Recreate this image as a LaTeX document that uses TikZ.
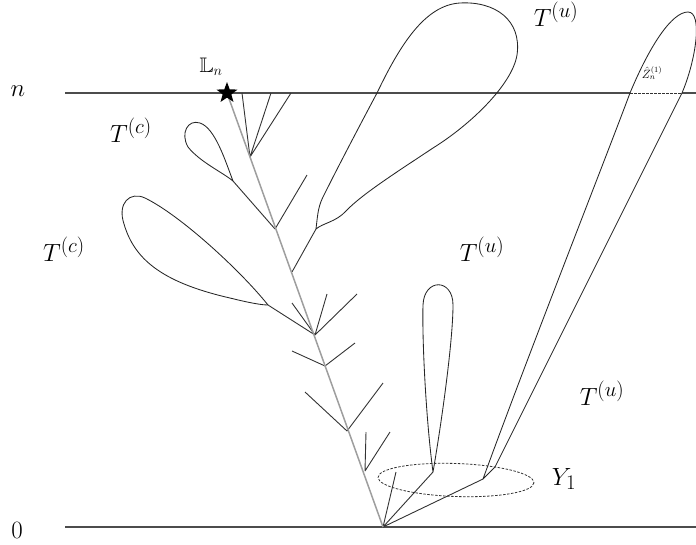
\documentclass[tikz,border=0pt]{standalone}
\usepackage{amssymb}
\usetikzlibrary{shapes.geometric}
\begin{document}
\begin{tikzpicture}[x=1pt,y=-1pt,
  edge/.style={black!80,line width=0.9pt},
  spine/.style={black!38,line width=1.5pt},
  level/.style={black!70,line width=1.1pt},
  loopline/.style={black!85,line width=0.85pt},
  dsh/.style={black!80,line width=0.8pt,dash pattern=on 2.5pt off 1.5pt},
  lab/.style={font=\fontsize{28}{32}\selectfont}]
\useasboundingbox (0,0) rectangle (696,544);
% levels
\coordinate (n0) at (65,93);
\coordinate (zl) at (630,93);
\coordinate (zr) at (682,93);
\coordinate (n1) at (696,93);
\coordinate (o0) at (65,527);
\coordinate (o1) at (696,527);
\draw[level] (n0) -- (zl);
\draw[level] (zr) -- (n1);
\draw[dsh] (zl) -- (zr);
\draw[level] (o0) -- (o1);
\node[lab] (nlab) at (18,91) {$n$};
\node[lab] (olab) at (17,530) {$0$};
% spine vertices
\coordinate (S) at (227,93);
\coordinate (R) at (383,527);
\coordinate (v1) at (250,157);
\coordinate (v2) at (275,229);
\coordinate (v3) at (292,272);
\coordinate (v4) at (315,335);
\coordinate (v5) at (325,366);
\coordinate (v6) at (347,431);
\coordinate (v7) at (365,471);
% leaves
\coordinate (a1) at (242,93);
\coordinate (a2) at (271,93);
\coordinate (a3) at (291,93);
\coordinate (b1) at (233,181);
\coordinate (b2) at (307,175);
\coordinate (c1) at (316,229);
\coordinate (d1) at (268,305);
\coordinate (d2) at (292,303);
\coordinate (d3) at (327,294);
\coordinate (d4) at (357,294);
\coordinate (e1) at (292,351);
\coordinate (e2) at (355,343);
\coordinate (f1) at (305,392);
\coordinate (f2) at (383,383);
\coordinate (g1) at (366,432);
\coordinate (g2) at (390,432);
\coordinate (h1) at (396,472);
\coordinate (h2) at (433,472);
\coordinate (h3) at (483,479);
% black edges
\draw[edge] (v1) -- (a1) (v1) -- (a2) (v1) -- (a3);
\draw[edge] (v2) -- (b1) (v2) -- (b2);
\draw[edge] (v3) -- (c1);
\draw[edge] (v4) -- (d1) (v4) -- (d2) (v4) -- (d3) (v4) -- (d4);
\draw[edge] (v5) -- (e1) (v5) -- (e2);
\draw[edge] (v6) -- (f1) (v6) -- (f2);
\draw[edge] (v7) -- (g1) (v7) -- (g2);
\draw[edge] (R) -- (h1) (R) -- (h2) (R) -- (h3);
% spine
\draw[spine] (S) -- (R);
% small T(c) loop
\draw[loopline] (b1) .. controls (225,160) and (215,128) .. (200,123)
  .. controls (188,119) and (180,133) .. (188,147)
  .. controls (200,162) and (222,172) .. (b1);
% large T(c) loop
\draw[loopline] (d1) .. controls (240,270) and (180,215) .. (145,198)
  .. controls (130,191) and (117,203) .. (124,224)
  .. controls (134,258) and (160,282) .. (230,298)
  .. controls (250,303) and (262,305) .. (d1);
% top T(u) loop
\draw[loopline] (c1) .. controls (318,212) and (318,206) .. (325,193)
  .. controls (340,163) and (360,125) .. (377,93)
  .. controls (400,45) and (425,5) .. (460,3)
  .. controls (495,1) and (522,20) .. (517,55)
  .. controls (512,85) and (470,125) .. (433,148)
  .. controls (400,170) and (362,194) .. (346,211)
  .. controls (336,222) and (323,223) .. (c1);
% narrow T(u) loop
\draw[loopline] (h2) .. controls (426,420) and (422,340) .. (423,305)
  .. controls (424,278) and (453,278) .. (453,305)
  .. controls (453,340) and (442,420) .. (h2);
% long loop
\draw[loopline] (h3) .. controls (530,350) and (605,160) .. (zl)
  .. controls (650,45) and (672,12) .. (688,12)
  .. controls (703,12) and (696,60) .. (zr)
  -- (495,467) -- (h3);
% Y1 ellipse
\draw[dsh] (456,480) ellipse [x radius=78, y radius=16.5, rotate=-2];
% star
\node[star, star points=5, star point ratio=2.4, fill=black, inner sep=0pt, minimum size=22pt] (star) at (S) {};
% labels
\node[font=\fontsize{21}{24}\selectfont] (Ln) at (211,67) {$\mathbb{L}_n$};
\node[lab] (tc1) at (131,130) {$T^{(c)}$};
\node[lab] (tc2) at (64,249) {$T^{(c)}$};
\node[lab] (tu1) at (556,14) {$T^{(u)}$};
\node[lab] (tu2) at (482,249) {$T^{(u)}$};
\node[lab] (tu3) at (602,393) {$T^{(u)}$};
\node[lab] (y1) at (564,479) {$Y_1$};
\node[font=\fontsize{12}{14}\selectfont, inner sep=1pt] (zh) at (652,73) {$\hat Z_n^{(1)}$};
\end{tikzpicture}
\end{document}
